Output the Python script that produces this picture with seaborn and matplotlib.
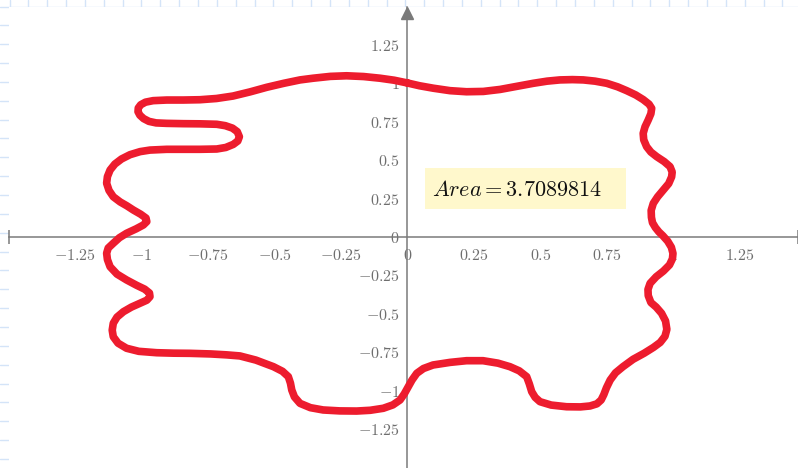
import numpy as np
import pandas as pd
import matplotlib
matplotlib.use('Agg')
import matplotlib.pyplot as plt
from matplotlib.patches import Rectangle
import seaborn as sns

# traced outline of the closed curve, (x, y) in plot units, going anticlockwise from (0, 1)
top_edge = [(0.0, 1.0), (-0.050, 1.018), (-0.103, 1.031), (-0.165, 1.042), (-0.229, 1.047),
            (-0.290, 1.043), (-0.355, 1.031), (-0.404, 1.020), (-0.465, 0.998), (-0.529, 0.972),
            (-0.592, 0.942), (-0.656, 0.915), (-0.718, 0.899), (-0.780, 0.891), (-0.843, 0.889),
            (-0.905, 0.889), (-0.956, 0.885)]
fold = [(-0.985, 0.875), (-1.003, 0.858), (-1.012, 0.837), (-1.013, 0.813), (-1.006, 0.790),
        (-0.992, 0.768), (-0.972, 0.750), (-0.945, 0.740), (-0.905, 0.737), (-0.843, 0.735),
        (-0.780, 0.734), (-0.717, 0.731), (-0.685, 0.722), (-0.658, 0.706), (-0.640, 0.683),
        (-0.632, 0.650), (-0.638, 0.622), (-0.655, 0.600), (-0.683, 0.580), (-0.717, 0.570),
        (-0.780, 0.568), (-0.843, 0.568), (-0.905, 0.568), (-0.968, 0.563)]
left_edge = [(-1.005, 0.553), (-1.043, 0.533), (-1.075, 0.505), (-1.100, 0.472), (-1.118, 0.433),
             (-1.128, 0.390), (-1.131, 0.347), (-1.122, 0.300), (-1.106, 0.259), (-1.080, 0.225),
             (-1.055, 0.200), (-1.031, 0.173), (-1.003, 0.145), (-0.983, 0.120), (-0.980, 0.097),
             (-0.993, 0.075), (-1.020, 0.050), (-1.056, 0.021), (-1.083, -0.008), (-1.106, -0.044),
             (-1.125, -0.075), (-1.131, -0.109), (-1.128, -0.150), (-1.118, -0.197), (-1.092, -0.245),
             (-1.056, -0.283), (-1.018, -0.318), (-0.988, -0.343), (-0.970, -0.368), (-0.968, -0.392),
             (-0.980, -0.415), (-1.006, -0.435), (-1.038, -0.460), (-1.068, -0.490), (-1.092, -0.525),
             (-1.106, -0.565), (-1.110, -0.610), (-1.106, -0.653), (-1.088, -0.695), (-1.056, -0.728),
             (-1.010, -0.748)]
bottom_edge = [(-0.943, -0.757), (-0.880, -0.760), (-0.818, -0.761), (-0.740, -0.765), (-0.680, -0.771),
               (-0.630, -0.778), (-0.570, -0.805), (-0.504, -0.848), (-0.470, -0.878), (-0.448, -0.913),
               (-0.440, -0.955), (-0.435, -1.000), (-0.425, -1.045), (-0.404, -1.087), (-0.365, -1.115),
               (-0.317, -1.130), (-0.255, -1.136), (-0.191, -1.137), (-0.140, -1.132), (-0.091, -1.119),
               (-0.055, -1.097), (-0.028, -1.065), (-0.012, -1.025), (0.003, -0.978), (0.017, -0.935),
               (0.035, -0.891), (0.060, -0.860), (0.096, -0.837), (0.160, -0.820), (0.222, -0.809),
               (0.284, -0.809), (0.340, -0.825), (0.385, -0.848), (0.420, -0.875), (0.448, -0.913),
               (0.458, -0.960), (0.467, -1.011), (0.480, -1.048), (0.498, -1.076), (0.540, -1.098),
               (0.598, -1.109), (0.650, -1.110), (0.686, -1.104), (0.712, -1.090), (0.728, -1.065),
               (0.738, -1.030), (0.748, -0.985), (0.762, -0.935), (0.782, -0.888), (0.810, -0.848),
               (0.848, -0.800), (0.890, -0.760), (0.925, -0.722)]
right_edge = [(0.950, -0.690), (0.968, -0.650), (0.975, -0.605), (0.970, -0.550), (0.955, -0.500),
              (0.935, -0.460), (0.915, -0.430), (0.905, -0.385), (0.904, -0.345), (0.912, -0.305),
              (0.935, -0.262), (0.962, -0.225), (0.985, -0.185), (0.996, -0.145), (0.998, -0.110),
              (0.992, -0.070), (0.978, -0.030), (0.960, 0.005), (0.945, 0.030), (0.932, 0.058),
              (0.921, 0.090), (0.917, 0.125), (0.916, 0.170), (0.924, 0.216), (0.940, 0.258),
              (0.962, 0.303), (0.982, 0.345), (0.993, 0.389), (0.995, 0.420), (0.987, 0.455),
              (0.965, 0.488), (0.937, 0.520), (0.915, 0.550), (0.899, 0.585), (0.888, 0.630),
              (0.886, 0.672), (0.893, 0.715), (0.905, 0.759), (0.915, 0.800), (0.918, 0.835),
              (0.908, 0.862), (0.886, 0.892)]
top_right_edge = [(0.858, 0.922), (0.824, 0.950), (0.790, 0.975), (0.749, 0.998), (0.705, 1.012),
                  (0.661, 1.020), (0.620, 1.022), (0.573, 1.020), (0.525, 1.012), (0.473, 0.998),
                  (0.410, 0.978), (0.348, 0.958), (0.285, 0.945), (0.222, 0.943), (0.160, 0.950),
                  (0.097, 0.966), (0.045, 0.982), (0.0, 1.0)]

ticks = [-1.25, -1.0, -0.75, -0.5, -0.25, 0.0, 0.25, 0.5, 0.75, 1.0, 1.25]
tick_labels = ['$-1.25$', '$-1$', '$-0.75$', '$-0.5$', '$-0.25$', '$0$',
               '$0.25$', '$0.5$', '$0.75$', '$1$', '$1.25$']
area_text = r'$Area = 3.7089814$'

sns.set_style('white')
plt.rcParams['mathtext.fontset'] = 'cm'
plt.rcParams['font.family'] = ['DejaVu Serif']

grey = '#7a7a7a'
fig = plt.figure(figsize=(7.98, 4.68), dpi=100)

# worksheet grid behind the plot region
bg = fig.add_axes([0, 0, 1, 1], zorder=-1)
bg.set_xlim(0, 798)
bg.set_ylim(468, 0)
for gx in np.arange(9.5, 798, 18.85):
    bg.axvline(gx, color='#d4e4f8', lw=1)
for gy in np.arange(6.5, 468, 18.85):
    bg.axhline(gy, color='#d4e4f8', lw=1)
bg.axis('off')

ax = fig.add_axes([9 / 798, 0, 1 - 9 / 798, 1 - 7 / 468])
ax.set_facecolor('white')

outline = top_edge + fold + left_edge + bottom_edge + right_edge + top_right_edge
df = pd.DataFrame(outline, columns=['x', 'y'])
sns.lineplot(data=df, x='x', y='y', sort=False, estimator=None, ax=ax,
             color='#ed1c2e', linewidth=5.5, solid_capstyle='round',
             solid_joinstyle='round', zorder=3)

ax.set_xlim(-1.498, 1.468)
ax.set_ylim(-1.508, 1.495)
ax.set_xlabel('')
ax.set_ylabel('')

for side in ['top', 'right']:
    ax.spines[side].set_visible(False)
for side in ['left', 'bottom']:
    ax.spines[side].set_position('zero')
    ax.spines[side].set_color(grey)
    ax.spines[side].set_linewidth(1.1)

ax.set_xticks(ticks)
ax.set_xticklabels(tick_labels)
ax.set_yticks(ticks)
ax.set_yticklabels(tick_labels)
ax.tick_params(axis='both', direction='inout', length=9, width=1, color=grey,
               labelcolor='#6e6e6e', labelsize=11.5)
ax.tick_params(axis='x', pad=3)
ax.tick_params(axis='y', pad=1)

# arrow head on top of the vertical axis, end bars on the horizontal one
ax.plot([0], [0.987], marker='^', markersize=8, color=grey,
        transform=ax.get_xaxis_transform(), clip_on=False)
ax.plot([0.0, 1.0], [0, 0], linestyle='none', marker='|', markersize=10,
        markeredgewidth=1.1, color=grey, transform=ax.get_yaxis_transform(),
        clip_on=False)

# result box
ax.add_patch(Rectangle((0.066, 0.179), 0.755, 0.267, facecolor='#fff8cc',
                       edgecolor='none', zorder=4))
ax.text(0.092, 0.305, area_text, fontsize=16, ha='left', va='center',
        color='#111111', zorder=5)

fig.savefig('out.png', dpi=100)
